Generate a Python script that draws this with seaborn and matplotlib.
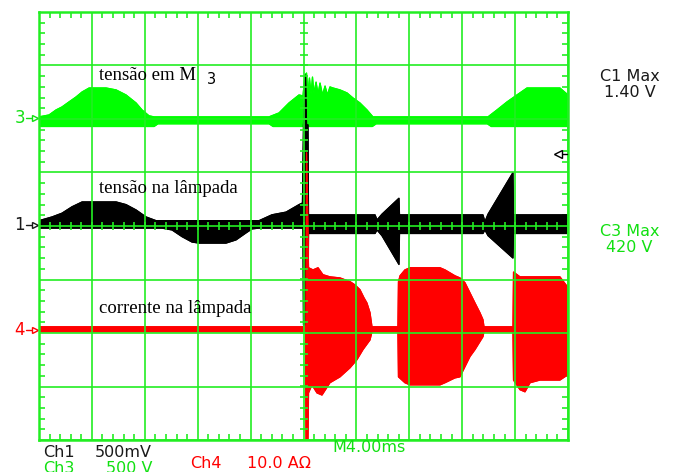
import numpy as np
import matplotlib
matplotlib.use("Agg")
import matplotlib.pyplot as plt
import seaborn as sns
from matplotlib.ticker import MultipleLocator
from matplotlib import transforms

# ---------------- acquisition settings ----------------
time_per_div = 4.0          # ms/div  (M4.00ms)
ch1_scale = 0.5             # V/div   (Ch1 500mV)
ch3_scale = 500.0           # V/div   (Ch3 500 V)
ch4_scale = 10.0            # A/div   (Ch4 10.0 A)
ch3_pos = 2.02              # ground marker positions, divisions
ch1_pos = 0.02
ch4_pos = -1.94
trigger_level = 0.66        # V on Ch1

# ---------------- Ch3: tensão em M3 (envelope, V) ----------------
t3_up = [-20.0, -19.24, -18.71, -18.26, -17.73, -17.20, -16.74, -16.21, -14.93,
         -14.17, -13.42, -12.66, -12.21, -11.68, -11.30, -2.61, -1.85, -1.10,
         -0.34, -0.04, 0.11, 0.23, 0.34, 0.45, 0.57, 0.68, 0.79, 0.95, 1.10,
         1.25, 1.44, 1.63, 1.81, 2.00, 2.23, 2.76, 3.29, 3.74, 4.27, 4.80, 5.25,
         13.95, 14.63, 15.39, 16.14, 16.90, 19.39, 20.0]
v3_up = [10, 28, 75, 103, 150, 196, 243, 280, 280,
         262, 215, 140, 75, 20, 10, 10, 47, 140,
         215, 206, 402, 420, 243, 374, 224, 383, 234, 336, 224,
         327, 215, 299, 215, 290, 280, 262, 234, 187, 140, 75, 10,
         10, 75, 150, 215, 280, 280, 215]
t3_lo = [-20.0, -11.3, -11.0, -2.6, -2.3, 5.2, 5.5, 13.9, 14.2, 20.0]
v3_lo = [-80, -80, -55, -55, -80, -80, -55, -55, -80, -80]

# ---------------- Ch1: tensão na lâmpada (envelope, V) ----------------
t1_up = [-20.0, -19.01, -18.26, -17.50, -16.74, -14.17, -13.42, -12.66, -11.91,
         -11.15, -3.36, -2.38, -1.32, -0.34, -0.08, 0.0, 0.15, 0.23, 0.34, 0.38,
         5.41, 5.56, 5.93, 7.22, 7.26, 13.57, 13.72, 13.95, 15.84, 15.88, 20.0]
v1_up = [0.04, 0.075, 0.11, 0.17, 0.215, 0.215, 0.19, 0.14, 0.075,
         0.04, 0.04, 0.095, 0.12, 0.19, 0.205, 0.935, 1.40, 0.935, 0.935, 0.094,
         0.094, 0.047, 0.10, 0.25, 0.094, 0.094, 0.03, 0.10, 0.49, 0.094, 0.094]
t1_lo = [-20.0, -10.70, -9.94, -9.18, -8.43, -7.90, -5.86, -5.10, -4.35, -3.89,
         -3.36, -0.04, 0.0, 0.34, 0.38, 5.41, 5.56, 5.93, 7.22, 7.26, 13.57,
         13.72, 13.95, 15.84, 15.88, 20.0]
v1_lo = [-0.03, -0.03, -0.047, -0.11, -0.16, -0.17, -0.17, -0.14, -0.075, -0.037,
         -0.03, -0.03, -0.935, -0.935, -0.08, -0.08, -0.047, -0.10, -0.37, -0.08,
         -0.08, -0.047, -0.10, -0.31, -0.08, -0.08]

# ---------------- Ch4: corrente na lâmpada (envelope, A) ----------------
t4_up = [-20.0, 0.19, 0.23, 0.34, 0.38, 0.72, 1.10, 1.47, 2.00, 2.76, 3.52, 3.89,
         4.27, 4.57, 4.80, 5.03, 5.18, 7.14, 7.18, 7.30, 7.67, 8.05, 10.32, 10.70,
         11.45, 11.83, 12.21, 12.59, 12.97, 13.34, 13.57, 13.65, 15.84, 15.88,
         16.37, 19.39, 20.0]
i4_up = [0.56, 0.56, 33.1, 18.7, 11.6, 11.2, 11.6, 10.3, 9.9, 9.7, 9.0, 8.4,
         7.5, 6.0, 5.0, 3.2, 0.56, 0.56, 9.0, 10.1, 11.2, 11.6, 11.6, 11.2,
         10.1, 9.7, 8.8, 6.9, 5.0, 3.2, 1.9, 0.56, 0.56, 10.8,
         9.9, 9.9, 7.9]
t4_lo = [-20.0, 0.15, 0.19, 0.34, 0.38, 0.64, 1.02, 1.40, 2.00, 2.76, 3.52, 4.04,
         4.50, 5.03, 5.18, 7.14, 7.18, 7.67, 8.05, 10.32, 10.70, 11.45, 11.83,
         12.21, 12.59, 12.97, 13.57, 13.65, 15.84, 15.88, 16.37, 16.75, 17.13,
         17.88, 19.39, 20.0]
i4_lo = [-0.37, -0.37, -21.0, -21.0, -11.8, -10.3, -11.8, -12.2, -9.9, -8.8, -7.1, -5.6,
         -3.7, -1.9, -0.37, -0.37, -8.8, -9.9, -10.3, -10.3, -9.9, -9.0, -8.8,
         -6.9, -5.0, -3.7, -1.3, -0.37, -0.37, -9.4, -11.2, -11.6, -9.9,
         -9.4, -9.4, -8.4]

trace_labels = ["tensão em M", "tensão na lâmpada", "corrente na lâmpada"]

# ---------------- styling ----------------
sns.set_style("white")
plt.rcParams["font.family"] = ["DejaVu Sans"]

GRID = "#22ee22"
GREEN = "#00ff00"
TXT_GREEN = "#11e011"
RED = "#ff0000"
BLACK = "#000000"
TXT_BLACK = "#1a1a1a"

W, H = 676, 472
fig = plt.figure(figsize=(W / 100, H / 100), dpi=100)
fig.patch.set_facecolor("white")
ax = fig.add_axes([39 / W, (H - 440) / H, 529 / W, 428 / H])
ax.set_facecolor("white")

half = 5 * time_per_div
ax.set_xlim(-half, half)
ax.set_ylim(-4, 4)


def draw_trace(t_up, v_up, t_lo, v_lo, scale, pos, color):
    t_up = np.asarray(t_up, float)
    t_lo = np.asarray(t_lo, float)
    yu = pos + np.asarray(v_up, float) / scale
    yl = pos + np.asarray(v_lo, float) / scale
    xs = np.concatenate([t_up, t_lo[::-1]])
    ys = np.concatenate([yu, yl[::-1]])
    ax.fill(xs, ys, color=color, lw=0.8, ec=color, zorder=2)
    sns.lineplot(x=t_up, y=yu, color=color, lw=0.9, ax=ax, sort=False,
                 estimator=None, zorder=2)
    sns.lineplot(x=t_lo, y=yl, color=color, lw=0.9, ax=ax, sort=False,
                 estimator=None, zorder=2)


draw_trace(t3_up, v3_up, t3_lo, v3_lo, ch3_scale, ch3_pos, GREEN)
draw_trace(t1_up, v1_up, t1_lo, v1_lo, ch1_scale, ch1_pos, BLACK)
draw_trace(t4_up, i4_up, t4_lo, i4_lo, ch4_scale, ch4_pos, RED)

# ---------------- graticule ----------------
for x in np.arange(-half, half + 0.01, time_per_div):
    ax.axvline(x, color=GRID, lw=1.4, alpha=0.85, zorder=3)
for y in range(-4, 5):
    ax.axhline(y, color=GRID, lw=1.4, alpha=0.85, zorder=3)

minor_t = np.arange(-half, half + 0.01, time_per_div / 5)
minor_v = np.arange(-4, 4.01, 0.2)
ax.plot(minor_t, np.zeros_like(minor_t), ls="none", marker="|", ms=6,
        mew=1.2, color=GRID, zorder=3)
ax.plot(np.zeros_like(minor_v), minor_v, ls="none", marker="_", ms=6,
        mew=1.2, color=GRID, zorder=3)

ax.xaxis.set_major_locator(MultipleLocator(time_per_div))
ax.yaxis.set_major_locator(MultipleLocator(1))
ax.xaxis.set_minor_locator(MultipleLocator(time_per_div / 5))
ax.yaxis.set_minor_locator(MultipleLocator(0.2))
ax.tick_params(which="major", length=0, labelbottom=False, labelleft=False)
ax.tick_params(which="minor", direction="in", length=4.5, width=1.2,
               color=GRID, top=True, right=True, bottom=True, left=True)
ax.set_xlabel("")
ax.set_ylabel("")
for sp in ax.spines.values():
    sp.set_color(GRID)
    sp.set_linewidth(1.8)
    sp.set_zorder(4)

# ground markers on the left edge
blend = transforms.blended_transform_factory(ax.transAxes, ax.transData)
for name, pos, col in [("3", ch3_pos, TXT_GREEN), ("1", ch1_pos, TXT_BLACK),
                       ("4", ch4_pos, RED)]:
    ax.plot([-0.024, -0.012], [pos, pos], color=col, lw=1.0,
            transform=blend, clip_on=False)
    ax.plot([-0.008], [pos], marker=">", ms=5, mfc="white", mec=col, mew=1.0,
            transform=blend, clip_on=False)
    ax.text(-0.026, pos, name, color=col, fontsize=12, ha="right", va="center",
            transform=blend)

# trigger level marker on the right edge
trig = ch1_pos + trigger_level / ch1_scale
ax.plot([0.984, 0.999], [trig, trig], color=BLACK, lw=1.0, transform=blend,
        clip_on=False, zorder=5)
ax.plot([0.981], [trig], marker="<", ms=6, mfc="white", mec=BLACK, mew=1.0,
        transform=blend, clip_on=False, zorder=5)


def ftext(x, y, s, **kw):
    fig.text(x / W, 1 - y / H, s, va="baseline", **kw)


serif = dict(family="Liberation Serif", fontsize=13.5, color=BLACK)
ftext(99, 80, trace_labels[0], **serif)
ftext(207, 84, "3", family="DejaVu Sans", fontsize=10.5, color=BLACK)
ftext(99, 193, trace_labels[1], **serif)
ftext(99, 313, trace_labels[2], **serif)

scope = dict(family="DejaVu Sans", fontsize=11.5)
c1_max = max(v1_up)
c3_max = max(v3_up)
ftext(630, 81, "C1 Max", ha="center", color=TXT_BLACK, **scope)
ftext(630, 97, f"{c1_max:.2f} V", ha="center", color=TXT_BLACK, **scope)
ftext(630, 236, "C3 Max", ha="center", color=TXT_GREEN, **scope)
ftext(629, 252, f"{c3_max:.0f} V", ha="center", color=TXT_GREEN, **scope)

ftext(43, 457, "Ch1", color=TXT_BLACK, **scope)
ftext(95, 457, f"{ch1_scale * 1000:.0f}mV", color=TXT_BLACK, **scope)
ftext(43, 473, "Ch3", color=TXT_GREEN, **scope)
ftext(106, 473, f"{ch3_scale:.0f} V", color=TXT_GREEN, **scope)
ftext(190, 468, "Ch4", color=RED, **scope)
ftext(247, 468, f"{ch4_scale:.1f} AΩ", color=RED, **scope)
ftext(332, 452, f"M{time_per_div:.2f}ms", color=TXT_GREEN, **scope)

fig.savefig("out.png", dpi=100, facecolor="white")
